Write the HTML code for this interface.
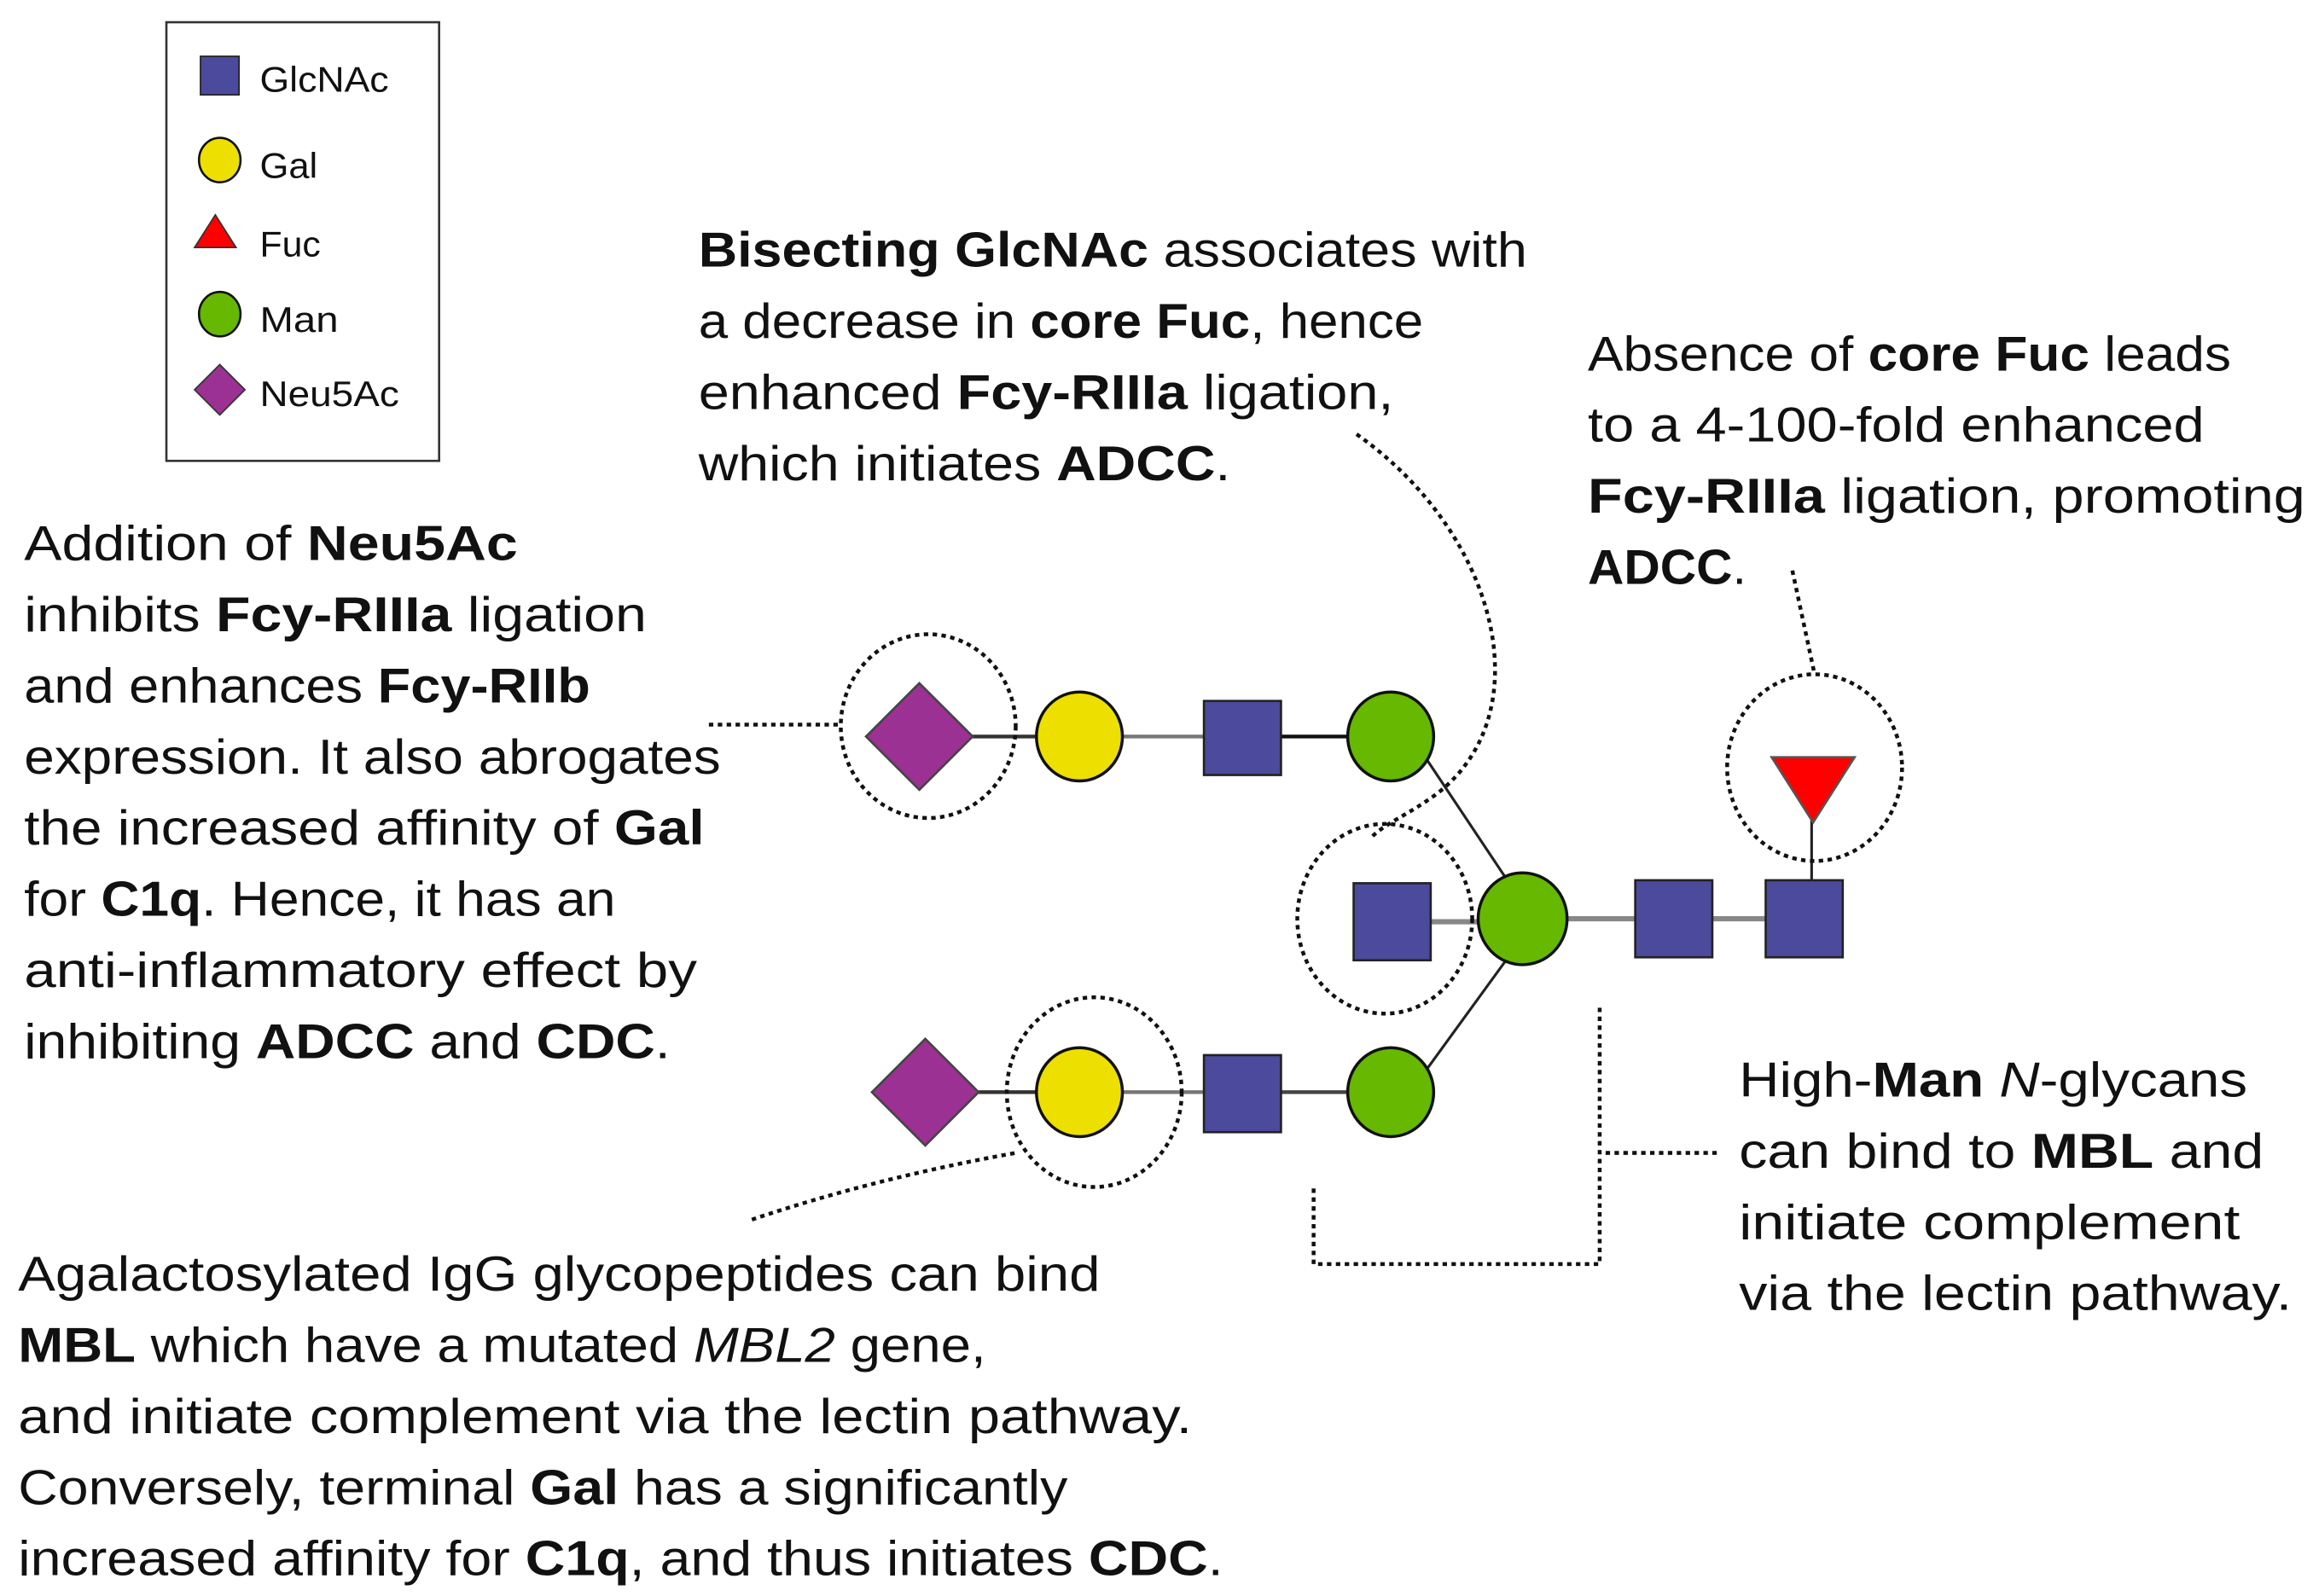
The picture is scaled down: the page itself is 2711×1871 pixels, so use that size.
<!DOCTYPE html>
<html><head><meta charset="utf-8"><style>
html,body{margin:0;padding:0;background:#fff;}
svg{display:block;}
text{font-family:"Liberation Sans",sans-serif;fill:#111;}
.t{font-size:33px;}
.lg{font-size:24px;}
</style></head><body>
<svg width="2711" height="1871" viewBox="0 0 1560 1077" xmlns="http://www.w3.org/2000/svg">
<!-- legend -->
<rect x="112" y="15" width="184" height="296" fill="#fff" stroke="#333" stroke-width="1.5"/>
<rect x="135" y="38" width="26" height="26" fill="#4b4a9c" stroke="#222" stroke-width="1"/>
<text class="lg" x="175" y="62" textLength="87" lengthAdjust="spacingAndGlyphs">GlcNAc</text>
<ellipse cx="148" cy="108" rx="14" ry="15" fill="#ede000" stroke="#111" stroke-width="1.5"/>
<text class="lg" x="175" y="120" textLength="39" lengthAdjust="spacingAndGlyphs">Gal</text>
<polygon points="145,145 159,167 131,167" fill="#f00" stroke="#333" stroke-width="1"/>
<text class="lg" x="175" y="173" textLength="41" lengthAdjust="spacingAndGlyphs">Fuc</text>
<ellipse cx="148" cy="212" rx="14" ry="15" fill="#66b800" stroke="#111" stroke-width="1.5"/>
<text class="lg" x="175" y="224" textLength="53" lengthAdjust="spacingAndGlyphs">Man</text>
<polygon points="148,246 165,263 148,280 131,263" fill="#9b3192" stroke="#333" stroke-width="1"/>
<text class="lg" x="175" y="274" textLength="94" lengthAdjust="spacingAndGlyphs">Neu5Ac</text>

<!-- bonds -->
<g stroke-width="2.5">
<line x1="655" y1="497" x2="700" y2="497" stroke="#333"/>
<line x1="757" y1="497" x2="812" y2="497" stroke="#777"/>
<line x1="864" y1="497" x2="910" y2="497" stroke="#111"/>
<line x1="660" y1="737" x2="700" y2="737" stroke="#333"/>
<line x1="757" y1="737" x2="812" y2="737" stroke="#777"/>
<line x1="864" y1="737" x2="910" y2="737" stroke="#444"/>
<line x1="962" y1="512" x2="1018" y2="596" stroke="#222" stroke-width="1.8"/>
<line x1="962" y1="722" x2="1018" y2="645" stroke="#222" stroke-width="1.8"/>
<line x1="965" y1="622" x2="998" y2="622" stroke="#888" stroke-width="3.5"/>
<line x1="1056" y1="620" x2="1103" y2="620" stroke="#888" stroke-width="3.5"/>
<line x1="1155" y1="620" x2="1191" y2="620" stroke="#888" stroke-width="3.5"/>
<line x1="1222" y1="550" x2="1222" y2="594" stroke="#222" stroke-width="1.8"/>
</g>

<!-- top row -->
<polygon points="620,461 656,497 620,533 584,497" fill="#9b3192" stroke="#444" stroke-width="1.5"/>
<ellipse cx="728" cy="497" rx="29" ry="30" fill="#ede000" stroke="#111" stroke-width="2"/>
<rect x="812" y="473" width="52" height="50" fill="#4b4a9c" stroke="#222" stroke-width="1.5"/>
<ellipse cx="938" cy="497" rx="29" ry="30" fill="#66b800" stroke="#111" stroke-width="2"/>
<!-- middle -->
<rect x="913" y="596" width="52" height="52" fill="#4b4a9c" stroke="#222" stroke-width="1.5"/>
<ellipse cx="1027" cy="620" rx="30" ry="31" fill="#66b800" stroke="#111" stroke-width="2"/>
<rect x="1103" y="594" width="52" height="52" fill="#4b4a9c" stroke="#222" stroke-width="1.5"/>
<rect x="1191" y="594" width="52" height="52" fill="#4b4a9c" stroke="#222" stroke-width="1.5"/>
<polygon points="1195,511 1251,511 1223,555" fill="#f00" stroke="#555" stroke-width="1.5"/>
<!-- bottom -->
<polygon points="624,701 660,737 624,773 588,737" fill="#9b3192" stroke="#444" stroke-width="1.5"/>
<ellipse cx="728" cy="737" rx="29" ry="30" fill="#ede000" stroke="#111" stroke-width="2"/>
<rect x="812" y="712" width="52" height="52" fill="#4b4a9c" stroke="#222" stroke-width="1.5"/>
<ellipse cx="938" cy="737" rx="29" ry="30" fill="#66b800" stroke="#111" stroke-width="2"/>

<!-- dotted annotations -->
<g fill="none" stroke="#111" stroke-width="2.6" stroke-dasharray="3,3">
<ellipse cx="626" cy="490" rx="59" ry="62"/>
<ellipse cx="934" cy="620" rx="59" ry="64"/>
<ellipse cx="738" cy="737" rx="59" ry="64"/>
<ellipse cx="1224" cy="518" rx="59" ry="63"/>
<line x1="478" y1="489" x2="566" y2="489"/>
<path d="M507,823 Q590,795 685,778"/>
<path d="M915,293 C1010,360 1040,480 970,535 C950,550 935,555 925,565"/>
<path d="M1209,385 L1224,455"/>
<path d="M1079,680 V853 H886 V800"/>
<line x1="1083" y1="778" x2="1160" y2="778"/>
</g>

<!-- top text -->
<g class="t">
<text x="471" y="180" textLength="559" lengthAdjust="spacingAndGlyphs"><tspan font-weight="bold">Bisecting GlcNAc</tspan> associates with</text>
<text x="471" y="228" textLength="489" lengthAdjust="spacingAndGlyphs">a decrease in <tspan font-weight="bold">core Fuc</tspan>, hence</text>
<text x="471" y="276" textLength="469" lengthAdjust="spacingAndGlyphs">enhanced <tspan font-weight="bold">Fcy-RIIIa</tspan> ligation,</text>
<text x="471" y="324" textLength="359" lengthAdjust="spacingAndGlyphs">which initiates <tspan font-weight="bold">ADCC</tspan>.</text>

<text x="1071" y="250" textLength="434" lengthAdjust="spacingAndGlyphs">Absence of <tspan font-weight="bold">core Fuc</tspan> leads</text>
<text x="1071" y="298" textLength="416" lengthAdjust="spacingAndGlyphs">to a 4-100-fold enhanced</text>
<text x="1071" y="346" textLength="484" lengthAdjust="spacingAndGlyphs"><tspan font-weight="bold">Fcy-RIIIa</tspan> ligation, promoting</text>
<text x="1071" y="394" textLength="107" lengthAdjust="spacingAndGlyphs"><tspan font-weight="bold">ADCC</tspan>.</text>

<text x="16" y="378" textLength="333" lengthAdjust="spacingAndGlyphs">Addition of <tspan font-weight="bold">Neu5Ac</tspan></text>
<text x="16" y="426" textLength="420" lengthAdjust="spacingAndGlyphs">inhibits <tspan font-weight="bold">Fcy-RIIIa</tspan> ligation</text>
<text x="16" y="474" textLength="382" lengthAdjust="spacingAndGlyphs">and enhances <tspan font-weight="bold">Fcy-RIIb</tspan></text>
<text x="16" y="522" textLength="470" lengthAdjust="spacingAndGlyphs">expression. It also abrogates</text>
<text x="16" y="570" textLength="459" lengthAdjust="spacingAndGlyphs">the increased affinity of <tspan font-weight="bold">Gal</tspan></text>
<text x="16" y="618" textLength="399" lengthAdjust="spacingAndGlyphs">for <tspan font-weight="bold">C1q</tspan>. Hence, it has an</text>
<text x="16" y="666" textLength="454" lengthAdjust="spacingAndGlyphs">anti-inflammatory effect by</text>
<text x="16" y="714" textLength="436" lengthAdjust="spacingAndGlyphs">inhibiting <tspan font-weight="bold">ADCC</tspan> and <tspan font-weight="bold">CDC</tspan>.</text>

<text x="12" y="871" textLength="730" lengthAdjust="spacingAndGlyphs">Agalactosylated IgG glycopeptides can bind</text>
<text x="12" y="919" textLength="653" lengthAdjust="spacingAndGlyphs"><tspan font-weight="bold">MBL</tspan> which have a mutated <tspan font-style="italic">MBL2</tspan> gene,</text>
<text x="12" y="967" textLength="792" lengthAdjust="spacingAndGlyphs">and initiate complement via the lectin pathway.</text>
<text x="12" y="1015" textLength="708" lengthAdjust="spacingAndGlyphs">Conversely, terminal <tspan font-weight="bold">Gal</tspan> has a significantly</text>
<text x="12" y="1063" textLength="813" lengthAdjust="spacingAndGlyphs">increased affinity for <tspan font-weight="bold">C1q</tspan>, and thus initiates <tspan font-weight="bold">CDC</tspan>.</text>

<text x="1173" y="740" textLength="343" lengthAdjust="spacingAndGlyphs">High-<tspan font-weight="bold">Man</tspan> <tspan font-style="italic">N</tspan>-glycans</text>
<text x="1173" y="788" textLength="354" lengthAdjust="spacingAndGlyphs">can bind to <tspan font-weight="bold">MBL</tspan> and</text>
<text x="1173" y="836" textLength="338" lengthAdjust="spacingAndGlyphs">initiate complement</text>
<text x="1173" y="884" textLength="373" lengthAdjust="spacingAndGlyphs">via the lectin pathway.</text>
</g>
</svg>
</body></html>
